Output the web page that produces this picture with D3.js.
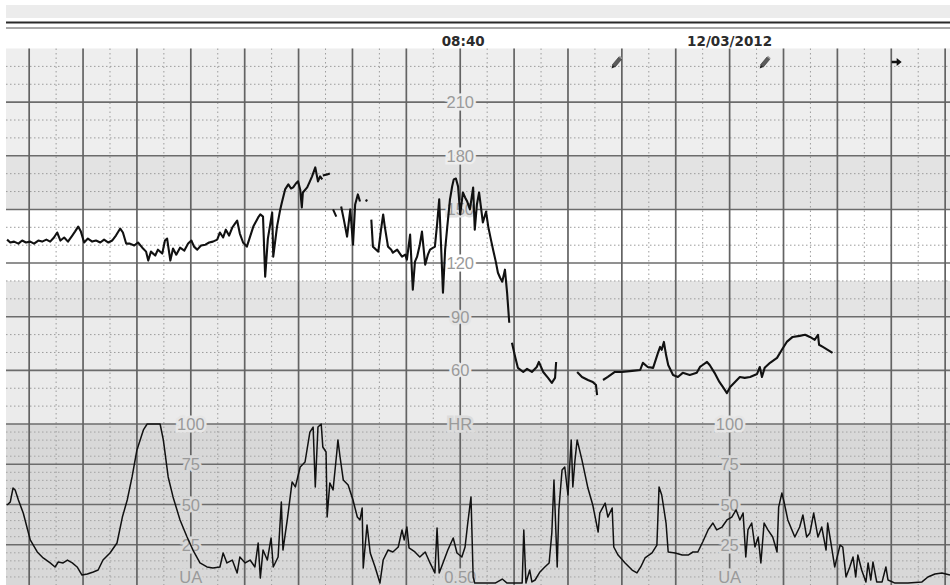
<!DOCTYPE html>
<html>
<head>
<meta charset="utf-8">
<script src="https://cdn.jsdelivr.net/npm/d3@7"></script>
<style>
  html, body { margin: 0; padding: 0; background: #fff; }
  svg { display: block; }
</style>
</head>
<body>
<svg id="ctg" width="950" height="585"></svg>
<script>
// ---- Data -------------------------------------------------------------
// Time is in minutes after 08:32 (one heavy grid column per minute).
const minuteStart = -0.43;
const minuteEnd = 17.09;
const headerTime = "08:40";
const headerDate = "12/03/2012";
const timeLabelMinute = 8;
const dateLabelMinute = 13;

const fhrTicks = [210, 180, 150, 120, 90, 60];
const fhrBaseLabel = "HR";
const uaTicks = [100, 75, 50, 25];
const uaBaseLabel = "UA";
const uaLabelMinutes = [3, 13];
const paperSpeedLabel = "0.50";

// Fetal heart rate [minute, bpm]; null marks signal loss.
const fhrSamples = [
  [-0.41,133.1],[-0.35,131.5],[-0.28,132.0],[-0.20,130.9],[-0.13,132.6],[-0.06,131.5],[0.02,132.0],[0.09,130.9],
  [0.17,132.6],[0.24,132.0],[0.32,133.1],[0.39,132.0],[0.46,134.3],[0.52,137.1],[0.58,132.6],[0.65,134.3],
  [0.72,132.0],[0.80,135.4],[0.85,137.6],[0.91,140.4],[0.96,137.6],[1.02,131.5],[1.09,133.7],[1.17,132.0],
  [1.24,132.6],[1.32,131.5],[1.39,133.1],[1.47,131.5],[1.54,132.6],[1.61,135.4],[1.69,139.3],[1.74,137.1],
  [1.80,130.9],[1.87,130.9],[1.95,129.8],[2.02,131.5],[2.10,128.6],[2.17,126.4],[2.21,121.4],[2.26,126.4],
  [2.34,124.2],[2.39,127.5],[2.47,125.3],[2.52,132.6],[2.56,133.7],[2.62,121.4],[2.67,128.1],[2.73,124.7],
  [2.80,128.6],[2.88,127.0],[2.95,130.9],[3.01,132.6],[3.06,129.2],[3.12,127.5],[3.19,129.8],[3.27,130.3],
  [3.34,131.5],[3.41,132.0],[3.49,133.1],[3.54,137.1],[3.60,134.3],[3.65,138.7],[3.71,135.4],[3.77,139.9],
  [3.82,142.1],[3.86,143.8],[3.91,136.5],[3.97,131.5],[4.04,129.2],[4.16,140.4],[4.25,145.5],[4.29,147.2],
  [4.34,146.0],[4.38,112.4],[4.43,133.7],[4.51,148.3],[4.53,123.6],[4.60,140.4],[4.66,150.0],[4.69,153.9],
  [4.75,161.2],[4.81,164.0],[4.86,161.7],[4.90,162.3],[4.95,164.5],[4.99,165.7],[5.03,161.2],[5.06,151.1],
  [5.08,159.5],[5.16,162.3],[5.21,165.7],[5.25,168.5],[5.31,173.5],[5.36,165.7],[5.40,168.5],[5.44,166.8],
  null,
  [5.45,169.0],[5.53,169.6],[5.58,170.1],
  null,
  [5.64,150.0],[5.70,146.0],
  null,
  [5.79,151.6],[5.84,144.3],[5.90,134.8],[5.96,150.0],[6.01,130.3],[6.05,152.8],[6.10,158.4],[6.14,154.4],
  null,
  [6.25,154.4],[6.27,155.6],
  null,
  [6.35,144.3],[6.38,129.2],[6.44,127.5],[6.48,126.4],[6.53,138.7],[6.57,147.2],[6.60,140.4],[6.66,129.2],
  [6.72,127.5],[6.75,125.8],[6.83,127.5],[6.88,125.3],[6.92,123.6],[6.98,124.7],[7.01,121.9],[7.07,135.9],
  [7.12,105.1],[7.16,120.8],[7.20,123.6],[7.25,130.3],[7.29,137.6],[7.35,119.1],[7.40,124.7],[7.44,127.5],
  [7.50,128.6],[7.53,129.2],[7.57,141.5],[7.61,155.6],[7.64,133.1],[7.68,103.4],[7.72,127.5],[7.76,140.4],
  [7.81,155.6],[7.85,162.8],[7.88,166.8],[7.92,167.3],[7.96,162.8],[8.00,147.2],[8.05,159.5],[8.09,156.7],
  [8.13,154.4],[8.18,150.0],[8.24,162.3],[8.27,138.7],[8.31,152.8],[8.35,159.5],[8.39,150.0],[8.42,142.7],
  [8.48,148.8],[8.52,140.4],[8.57,133.1],[8.61,127.5],[8.66,120.8],[8.70,114.6],[8.74,111.8],[8.78,109.6],
  [8.83,116.3],[8.87,103.4],[8.91,86.6],
  null,
  [8.96,75.4],[9.02,67.5],[9.07,61.4],[9.17,59.1],[9.24,60.8],[9.33,59.1],[9.42,61.9],[9.46,64.7],
  [9.54,59.1],[9.63,55.8],[9.70,53.0],[9.76,55.8],[9.78,64.7],
  null,
  [10.17,59.1],[10.26,56.3],[10.37,54.6],[10.46,53.5],[10.52,51.8],[10.54,46.2],
  null,
  [10.65,54.6],[10.74,56.3],[10.87,59.1],[11.00,59.1],[11.19,59.7],[11.34,60.2],[11.39,64.2],[11.48,61.9],
  [11.58,61.4],[11.67,69.8],[11.71,73.1],[11.74,71.5],[11.78,75.9],[11.82,68.7],[11.86,63.0],[11.95,57.4],
  [12.04,56.3],[12.13,58.6],[12.26,57.4],[12.39,58.6],[12.45,61.9],[12.50,63.0],[12.58,64.7],[12.63,63.0],
  [12.72,58.6],[12.81,53.5],[12.89,50.1],[12.95,47.3],[13.01,50.7],[13.10,53.5],[13.19,56.3],[13.28,55.8],
  [13.38,56.3],[13.51,58.0],[13.56,61.9],[13.60,56.3],[13.65,61.4],[13.75,64.2],[13.88,67.0],[13.97,71.5],
  [14.06,75.9],[14.17,78.7],[14.30,79.3],[14.40,79.9],[14.49,78.7],[14.58,77.1],[14.64,79.9],[14.66,74.3],
  [14.73,73.1],[14.82,71.5],[14.91,69.8]
];

// Uterine activity [minute, value 0-100].
const uaSamples = [
  [-0.41,49.7],[-0.35,51.6],[-0.30,60.2],[-0.26,59.0],[-0.20,52.8],[-0.11,44.7],[0.02,28.0],[0.15,20.5],
  [0.26,16.8],[0.39,13.7],[0.48,11.2],[0.54,14.3],[0.63,13.7],[0.71,15.5],[0.80,13.7],[0.89,11.2],
  [0.98,6.2],[1.08,6.8],[1.19,8.1],[1.28,9.3],[1.37,15.5],[1.50,19.9],[1.63,26.1],[1.73,42.2],
  [1.82,52.8],[1.91,67.1],[2.00,83.9],[2.12,96.3],[2.19,100],[2.43,100],[2.49,90.1],[2.58,67.1],
  [2.67,54.7],[2.80,40.4],[2.93,29.8],[3.04,21.7],[3.17,13.7],[3.30,11.2],[3.41,10.6],[3.54,11.2],
  [3.60,19.9],[3.67,13.7],[3.77,15.5],[3.86,7.5],[3.91,17.4],[4.01,13.7],[4.10,15.5],[4.19,11.2],
  [4.25,26.1],[4.29,4.3],[4.34,21.7],[4.42,15.5],[4.49,29.2],[4.53,11.2],[4.62,17.4],[4.68,51.6],
  [4.71,21.7],[4.79,40.4],[4.88,64.0],[4.94,60.9],[5.03,73.3],[5.12,76.4],[5.21,95.0],[5.27,98.1],
  [5.31,60.9],[5.36,98.1],[5.42,100],[5.45,85.7],[5.51,82.6],[5.53,42.2],[5.58,63.4],[5.64,59.0],
  [5.71,82.6],[5.73,90.1],[5.77,79.5],[5.83,65.2],[5.92,62.1],[6.01,52.8],[6.09,42.2],[6.14,40.4],
  [6.18,47.8],[6.20,10.6],[6.27,37.3],[6.33,19.9],[6.42,11.2],[6.51,1.2],[6.57,15.5],[6.66,21.7],
  [6.75,20.5],[6.85,23.6],[6.92,34.2],[6.96,28.0],[7.01,36.0],[7.05,23.0],[7.16,20.5],[7.25,17.4],
  [7.35,20.5],[7.44,13.7],[7.53,7.5],[7.57,35.4],[7.61,7.5],[7.68,13.7],[7.77,21.7],[7.87,29.2],
  [7.94,19.9],[8.03,17.4],[8.09,23.6],[8.14,38.5],[8.20,54.7],[8.24,5.0],[8.27,1.2],[8.65,1.2],
  [8.78,3.7],[8.87,1.2],[9.15,1.2],[9.18,34.2],[9.22,1.2],[9.29,9.3],[9.33,1.9],[9.39,3.1],
  [9.48,8.1],[9.57,11.2],[9.65,13.7],[9.70,32.3],[9.74,65.2],[9.80,11.2],[9.83,46.6],[9.89,71.4],
  [9.94,73.3],[10.00,55.9],[10.06,90.1],[10.09,60.9],[10.13,77.6],[10.17,90.1],[10.26,77.6],[10.37,60.2],
  [10.46,49.7],[10.56,32.9],[10.59,44.7],[10.69,50.9],[10.74,42.2],[10.82,47.8],[10.85,23.6],[10.93,18.6],
  [11.06,13.7],[11.19,9.3],[11.28,7.5],[11.35,11.2],[11.43,16.8],[11.56,19.9],[11.65,24.8],[11.69,60.9],
  [11.74,55.9],[11.82,38.5],[11.86,20.5],[11.99,19.9],[12.12,18.6],[12.23,18.6],[12.32,20.5],[12.41,20.5],
  [12.50,26.7],[12.60,34.2],[12.69,38.5],[12.76,34.2],[12.86,36.0],[12.95,40.4],[13.04,42.2],[13.12,46.6],
  [13.19,40.4],[13.25,44.7],[13.30,17.4],[13.34,34.2],[13.41,38.5],[13.47,23.6],[13.53,29.8],[13.58,13.7],
  [13.64,38.5],[13.71,34.2],[13.80,29.8],[13.88,20.5],[13.91,48.4],[13.97,57.1],[14.01,51.6],[14.08,40.4],
  [14.21,29.8],[14.30,36.0],[14.36,43.5],[14.43,29.8],[14.49,32.3],[14.56,44.7],[14.64,29.8],[14.71,36.0],
  [14.79,21.7],[14.82,38.5],[14.88,26.1],[14.95,11.2],[15.05,24.8],[15.10,23.6],[15.16,5.0],[15.23,11.2],
  [15.29,17.4],[15.34,5.0],[15.38,18.6],[15.45,9.3],[15.53,1.9],[15.57,13.7],[15.62,3.1],[15.66,14.3],
  [15.73,1.9],[15.83,1.9],[15.90,11.2],[15.94,3.1],[16.07,1.2],[16.31,1.2],[16.57,1.9],[16.68,5.0],
  [16.81,6.8],[16.94,7.5],[17.09,6.2]
];

// Event markers along the top of the trace.
const eventMinutes = [10.91, 13.66, 16.10];
const eventKinds = ["note", "note", "arrow"];

// ---- Layout ----------------------------------------------------------
const svg = d3.select("#ctg");
const left = 6, right = 950;
const gridTop = 48.5, hrBottom = 424, uaBottom = 585;

const x = d3.scaleLinear().domain([minuteStart, minuteEnd]).range([left, right]);
const yF = d3.scaleLinear().domain([30, 240]).range([hrBottom, gridTop]);
const yU = d3.scaleLinear().domain([0, 100]).range([uaBottom, hrBottom]);

// Header strip
svg.append("rect").attr("x", left).attr("y", 5).attr("width", right - left).attr("height", 13).attr("fill", "#ececec");
svg.append("line").attr("x1", left).attr("x2", right).attr("y1", 22.5).attr("y2", 22.5)
  .attr("stroke", "#2a2a2a").attr("stroke-width", 2.2);
svg.append("line").attr("x1", left).attr("x2", right).attr("y1", 28).attr("y2", 28)
  .attr("stroke", "#555").attr("stroke-width", 1.2);

const headerFont = "DejaVu Sans, Verdana, sans-serif";
svg.append("text").attr("x", x(timeLabelMinute) + 3).attr("y", 46)
  .attr("text-anchor", "middle").attr("font-family", headerFont)
  .attr("font-weight", "bold").attr("font-size", 13.5).attr("fill", "#2b2b2b").text(headerTime);
svg.append("text").attr("x", x(dateLabelMinute)).attr("y", 46)
  .attr("text-anchor", "middle").attr("font-family", headerFont)
  .attr("font-weight", "bold").attr("font-size", 13.5).attr("fill", "#2b2b2b").text(headerDate);

// Background bands of the heart-rate panel
const fhrBands = [
  { lo: 180, hi: 240, fill: "#eeeeee" },
  { lo: 150, hi: 180, fill: "#e3e3e3" },
  { lo: 110, hi: 150, fill: "#ffffff" },
  { lo: 90,  hi: 110, fill: "#e4e4e4" },
  { lo: 30,  hi: 90,  fill: "#ebebeb" }
];
const bandFill = v => (fhrBands.find(b => v >= b.lo && v < b.hi) || fhrBands[0]).fill;

svg.append("g").selectAll("rect").data(fhrBands).join("rect")
  .attr("x", left).attr("width", right - left)
  .attr("y", d => yF(d.hi)).attr("height", d => yF(d.lo) - yF(d.hi))
  .attr("fill", d => d.fill);
svg.append("rect").attr("x", left).attr("width", right - left)
  .attr("y", yU(100)).attr("height", yU(0) - yU(100)).attr("fill", "#d8d8d8");

// Grid
const grid = svg.append("g");
const wholeMinutes = d3.range(Math.ceil(minuteStart), Math.floor(minuteEnd) + 1);
const halfMinutes = d3.range(Math.ceil(minuteStart - 0.5) + 0.5, minuteEnd, 1);

const fhrMinor = d3.range(40, 240, 10).filter(v => v % 30 !== 0);
const fhrMajor = d3.range(60, 240, 30);
const uaMinor = d3.range(5, 100, 5).filter(v => v % 25 !== 0);
const uaMajor = [25, 50, 75];

grid.selectAll(".hminF").data(fhrMinor).join("line")
  .attr("x1", left).attr("x2", right).attr("y1", d => yF(d)).attr("y2", d => yF(d))
  .attr("stroke", "#9c9c9c").attr("stroke-width", 1).attr("stroke-dasharray", "1.5,2.5");
grid.selectAll(".hminU").data(uaMinor).join("line")
  .attr("x1", left).attr("x2", right).attr("y1", d => yU(d)).attr("y2", d => yU(d))
  .attr("stroke", "#a4a4a4").attr("stroke-width", 1).attr("stroke-dasharray", "1.5,2.5");
grid.selectAll(".vmin").data(halfMinutes).join("line")
  .attr("x1", d => x(d)).attr("x2", d => x(d)).attr("y1", gridTop).attr("y2", uaBottom)
  .attr("stroke", "#9c9c9c").attr("stroke-width", 1).attr("stroke-dasharray", "1.5,3");

grid.selectAll(".hmajF").data(fhrMajor).join("line")
  .attr("x1", left).attr("x2", right).attr("y1", d => yF(d)).attr("y2", d => yF(d))
  .attr("stroke", "#6c6c6c").attr("stroke-width", 1.6);
grid.selectAll(".hmajU").data(uaMajor).join("line")
  .attr("x1", left).attr("x2", right).attr("y1", d => yU(d)).attr("y2", d => yU(d))
  .attr("stroke", "#6c6c6c").attr("stroke-width", 1.6);
grid.append("line").attr("x1", left).attr("x2", right).attr("y1", hrBottom).attr("y2", hrBottom)
  .attr("stroke", "#6c6c6c").attr("stroke-width", 1.6);
grid.selectAll(".vmaj").data(wholeMinutes).join("line")
  .attr("x1", d => x(d)).attr("x2", d => x(d)).attr("y1", gridTop).attr("y2", uaBottom)
  .attr("stroke", "#636363").attr("stroke-width", 1.7);

// Scale labels
const labelFont = "Liberation Sans, Arial, sans-serif";
const labels = svg.append("g").attr("font-family", labelFont).attr("font-size", 16.5)
  .attr("fill", "#9a9a9a").attr("text-anchor", "middle").attr("dominant-baseline", "central");
const bottomLabelY = yU(0) - 8;

labels.selectAll(".fl").data(fhrTicks).join("text")
  .attr("x", x(timeLabelMinute)).attr("y", d => yF(d))
  .attr("stroke", d => bandFill(d + 5)).attr("stroke-width", 5).attr("paint-order", "stroke")
  .text(d => d);
labels.append("text").attr("x", x(timeLabelMinute)).attr("y", yF(30))
  .attr("stroke", "#dcdcdc").attr("stroke-width", 5).attr("paint-order", "stroke")
  .text(fhrBaseLabel);
labels.append("text").attr("x", x(timeLabelMinute)).attr("y", bottomLabelY)
  .attr("stroke", "#d8d8d8").attr("stroke-width", 5).attr("paint-order", "stroke")
  .text(paperSpeedLabel);

uaLabelMinutes.forEach(m => {
  labels.append("g").selectAll("text").data(uaTicks).join("text")
    .attr("x", x(m)).attr("y", d => yU(d))
    .attr("stroke", d => d === 100 ? "#e6e6e6" : "#d8d8d8").attr("stroke-width", 5).attr("paint-order", "stroke")
    .text(d => d);
  labels.append("text").attr("x", x(m)).attr("y", bottomLabelY)
    .attr("stroke", "#d8d8d8").attr("stroke-width", 5).attr("paint-order", "stroke")
    .text(uaBaseLabel);
});

// Traces
svg.append("clipPath").attr("id", "clipF").append("rect")
  .attr("x", left).attr("y", gridTop).attr("width", right - left).attr("height", hrBottom - gridTop);
svg.append("clipPath").attr("id", "clipU").append("rect")
  .attr("x", left).attr("y", hrBottom - 1).attr("width", right - left).attr("height", uaBottom - hrBottom + 1);

const fhrLine = d3.line().defined(d => d !== null).x(d => x(d[0])).y(d => yF(d[1]));
const uaLine = d3.line().x(d => x(d[0])).y(d => yU(d[1]));

svg.append("path").datum(fhrSamples).attr("d", fhrLine).attr("clip-path", "url(#clipF)")
  .attr("fill", "none").attr("stroke", "#111").attr("stroke-width", 2.1).attr("stroke-linejoin", "round");
svg.append("path").datum(uaSamples).attr("d", uaLine).attr("clip-path", "url(#clipU)")
  .attr("fill", "none").attr("stroke", "#111").attr("stroke-width", 1.5).attr("stroke-linejoin", "round");

// Event markers
const markers = svg.append("g");
eventMinutes.forEach((m, i) => {
  const g = markers.append("g").attr("transform", `translate(${x(m)},62)`);
  if (eventKinds[i] === "note") {
    const p = g.append("g").attr("transform", "rotate(-50)");
    p.append("rect").attr("x", -5).attr("y", -1.8).attr("width", 10).attr("height", 3.6)
      .attr("fill", "#5a5a5a").attr("stroke", "#333").attr("stroke-width", 0.6);
    p.append("path").attr("d", "M-5,-1.8 L-8.5,0 L-5,1.8 Z").attr("fill", "#222");
    p.append("rect").attr("x", 5).attr("y", -1.8).attr("width", 1.5).attr("height", 3.6).attr("fill", "#999");
  } else {
    g.append("path").attr("d", "M-5,-1.3 L0,-1.3 L0,-4 L5,0 L0,4 L0,1.3 L-5,1.3 Z").attr("fill", "#111");
  }
});
</script>
</body>
</html>
